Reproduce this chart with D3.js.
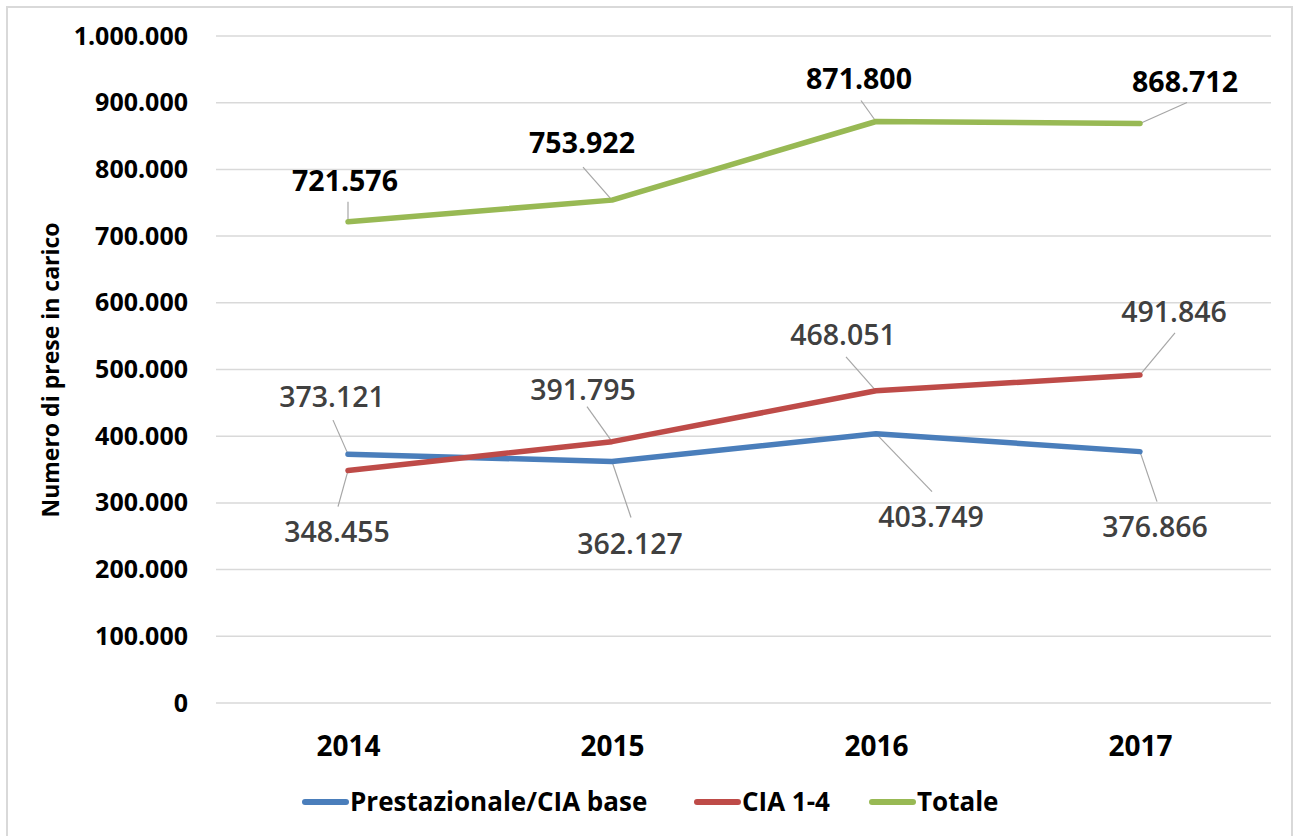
<!DOCTYPE html>
<html>
<script src="https://d3js.org/d3.v7.min.js"></script>

<head>
    <style>
        body {
            margin: 0;
            background-color: #ffffff;
            font-family: "Open Sans", Arial, sans-serif;
        }

        svg {
            display: block;
        }
    </style>
</head>

<body>
</body>
<script>
    const width = 1293,
        height = 836;

    // data
    const years = ["2014", "2015", "2016", "2017"];
    const prestazionale = [373121, 362127, 403749, 376866];
    const cia = [348455, 391795, 468051, 491846];
    const totale = [721576, 753922, 871800, 868712];
    const yTicks = [0, 100000, 200000, 300000, 400000, 500000, 600000, 700000, 800000, 900000, 1000000];

    // label placement: [label dx, label dy, leader end dx, leader end dy] relative to the point
    const prestLabelPos = [[-16, -57, -15, -34], [18, 83, 19, 56], [55, 83, 56, 58], [15, 75, 17, 50]];
    const ciaLabelPos = [[-11, 61, -10, 36], [-29, -52, -25, -35], [-33, -56, -30, -34], [34, -63, 35, -42]];
    const totLabelPos = [[-3, -41, 0, -20], [-30, -57, -29, -33], [-17, -42, -15, -21], [45, -42, 47, -21]];

    const series = [
        { name: "Prestazionale/CIA base", values: prestazionale, color: "#4a7ebb", pos: prestLabelPos, labelColor: "#404040", weight: 600 },
        { name: "CIA 1-4", values: cia, color: "#be4b48", pos: ciaLabelPos, labelColor: "#404040", weight: 600 },
        { name: "Totale", values: totale, color: "#98b954", pos: totLabelPos, labelColor: "#000000", weight: 700 }
    ];

    const fmt = d3.formatLocale({ decimal: ",", thousands: ".", grouping: [3], currency: ["", "€"] }).format(",d");

    const svg = d3.select("body").append("svg").attr("width", width).attr("height", height);

    // outer frame
    svg.append("rect")
        .attr("x", 7).attr("y", 7)
        .attr("width", 1285).attr("height", 840)
        .attr("fill", "none")
        .attr("stroke", "#d9d9d9")
        .attr("stroke-width", 2);

    const x = d3.scalePoint().domain(years).range([216, 1272]).padding(0.5);
    const y = d3.scaleLinear().domain([0, 1000000]).range([703, 36]);

    // gridlines
    svg.append("g")
        .selectAll("line")
        .data(yTicks)
        .join("line")
        .attr("x1", 216).attr("x2", 1271)
        .attr("y1", d => y(d)).attr("y2", d => y(d))
        .attr("stroke", "#d9d9d9")
        .attr("stroke-width", 1.5);

    // y axis
    const yAxis = svg.append("g")
        .attr("transform", "translate(188,0)")
        .call(d3.axisLeft(y).tickValues(yTicks).tickFormat(fmt).tickSize(0).tickPadding(0));
    yAxis.select(".domain").remove();
    yAxis.selectAll("text")
        .attr("font-family", "Open Sans")
        .attr("font-size", 25)
        .attr("font-weight", 700)
        .attr("fill", "#000");

    // x axis
    const xAxis = svg.append("g")
        .attr("transform", "translate(0,746)")
        .call(d3.axisBottom(x).tickSize(0).tickPadding(0));
    xAxis.select(".domain").remove();
    xAxis.selectAll("text")
        .attr("dy", "0.35em")
        .attr("font-family", "Open Sans")
        .attr("font-size", 28)
        .attr("font-weight", 700)
        .attr("fill", "#000");

    // y title
    svg.append("text")
        .attr("transform", "translate(51,370) rotate(-90)")
        .attr("text-anchor", "middle")
        .attr("dy", "0.35em")
        .attr("font-size", 23)
        .attr("font-weight", 700)
        .attr("fill", "#000")
        .text("Numero di prese in carico");

    const line = d3.line()
        .x((d, i) => x(years[i]))
        .y(d => y(d));

    // leader lines
    series.forEach(s => {
        svg.append("g")
            .selectAll("line")
            .data(s.values)
            .join("line")
            .attr("x1", (d, i) => x(years[i]))
            .attr("y1", d => y(d))
            .attr("x2", (d, i) => x(years[i]) + s.pos[i][2])
            .attr("y2", (d, i) => y(d) + s.pos[i][3])
            .attr("stroke", "#a6a6a6")
            .attr("stroke-width", 1.2);
    });

    // series lines
    series.forEach(s => {
        svg.append("path")
            .datum(s.values)
            .attr("fill", "none")
            .attr("stroke", s.color)
            .attr("stroke-width", 5.5)
            .attr("stroke-linecap", "round")
            .attr("stroke-linejoin", "round")
            .attr("d", line);
    });

    // data labels
    series.forEach(s => {
        svg.append("g")
            .selectAll("text")
            .data(s.values)
            .join("text")
            .attr("x", (d, i) => x(years[i]) + s.pos[i][0])
            .attr("y", (d, i) => y(d) + s.pos[i][1])
            .attr("text-anchor", "middle")
            .attr("dy", "0.35em")
            .attr("font-size", 28.5)
            .attr("font-weight", s.weight)
            .attr("fill", s.labelColor)
            .text(d => fmt(d));
    });

    // legend
    const legendX = [303, 695, 870];
    const legend = svg.append("g");
    series.forEach((s, i) => {
        legend.append("line")
            .attr("x1", legendX[i] + 2).attr("x2", legendX[i] + 43)
            .attr("y1", 802).attr("y2", 802)
            .attr("stroke", s.color)
            .attr("stroke-width", 6)
            .attr("stroke-linecap", "round");
        legend.append("text")
            .attr("x", legendX[i] + 47)
            .attr("y", 802)
            .attr("dy", "0.35em")
            .attr("font-size", 26)
            .attr("font-weight", 700)
            .attr("fill", "#000")
            .text(s.name);
    });
</script>

</html>
